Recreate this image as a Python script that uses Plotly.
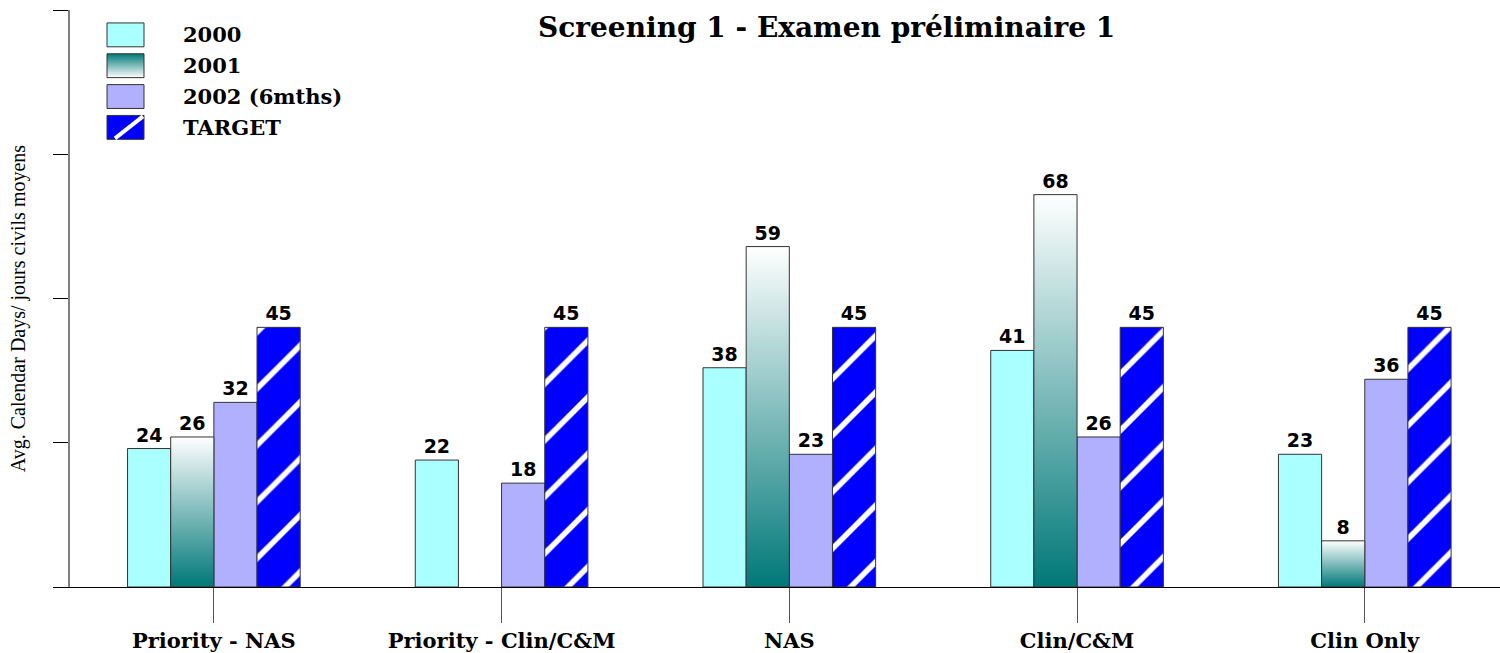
import plotly.graph_objects as go

categories = ["Priority - NAS", "Priority - Clin/C&M", "NAS", "Clin/C&M", "Clin Only"]
series_names = ["2000", "2001", "2002 (6mths)", "TARGET"]
v2000 = [24, 22, 38, 41, 23]
v2001 = [26, None, 59, 68, 8]
v2002 = [32, 18, 23, 26, 36]
vtarget = [45, 45, 45, 45, 45]
title_text = "Screening 1 - Examen préliminaire 1"
y_title = "Avg. Calendar Days/ jours civils moyens"

BW = 0.15
offsets = [-0.30, -0.15, 0.0, 0.15]
xs = list(range(len(categories)))
SERIF = "DejaVu Serif"
LABEL_FONT = dict(family="DejaVu Sans", size=19, color="black", weight="bold")
TEAL = "#007878"
grad_scale = [[0, TEAL], [1, "#ffffff"]]
EDGE = "#333333"

fig = go.Figure()

# 2000
fig.add_trace(go.Bar(x=xs, y=v2000, width=BW, offset=offsets[0],
                     marker=dict(color="#aaffff", line=dict(color=EDGE, width=1)),
                     text=v2000, textposition="outside", textfont=LABEL_FONT,
                     cliponaxis=False, showlegend=False))
# 2001 (gradient fill drawn with scatter polygons; bar carries labels)
for i, v in zip(xs, v2001):
    if v is None:
        continue
    x0 = i + offsets[1]
    fig.add_trace(go.Scatter(x=[x0, x0 + BW, x0 + BW, x0, x0], y=[0, 0, v, v, 0],
                             mode="lines", fill="toself",
                             fillgradient=dict(type="vertical", colorscale=grad_scale),
                             line=dict(color=EDGE, width=1), hoverinfo="skip",
                             showlegend=False))
fig.add_trace(go.Bar(x=xs, y=v2001, width=BW, offset=offsets[1],
                     marker=dict(color="rgba(0,0,0,0)", line=dict(width=0)),
                     text=v2001, textposition="outside", textfont=LABEL_FONT,
                     cliponaxis=False, showlegend=False))
# 2002
fig.add_trace(go.Bar(x=xs, y=v2002, width=BW, offset=offsets[2],
                     marker=dict(color="#b0b0ff", line=dict(color=EDGE, width=1)),
                     text=v2002, textposition="outside", textfont=LABEL_FONT,
                     cliponaxis=False, showlegend=False))
# Target
fig.add_trace(go.Bar(x=xs, y=vtarget, width=BW, offset=offsets[3],
                     marker=dict(color="#0000ff", line=dict(color=EDGE, width=1),
                                 pattern=dict(shape="/", fillmode="replace", bgcolor="#0000ff",
                                              fgcolor="#ffffff", fgopacity=1,
                                              size=40, solidity=0.14)),
                     text=vtarget, textposition="outside", textfont=LABEL_FONT,
                     cliponaxis=False, showlegend=False))

# ---- custom legend on an overlay axis in pixel-like units ----
leg_x0, leg_x1 = 107, 144
leg_rows = [(23, 47), (54, 78), (85, 109), (116, 140)]
fig.add_trace(go.Scatter(x=[leg_x0, leg_x1, leg_x1, leg_x0, leg_x0],
                         y=[leg_rows[1][1], leg_rows[1][1], leg_rows[1][0], leg_rows[1][0], leg_rows[1][1]],
                         xaxis="x2", yaxis="y2", mode="lines", fill="toself",
                         fillgradient=dict(type="vertical", colorscale=[[0, "#ffffff"], [1, TEAL]]),
                         line=dict(color=EDGE, width=1), hoverinfo="skip", showlegend=False))
shapes = [
    dict(type="rect", xref="x2", yref="y2", x0=leg_x0, x1=leg_x1, y0=leg_rows[0][0], y1=leg_rows[0][1],
         fillcolor="#aaffff", line=dict(color=EDGE, width=1)),
    dict(type="rect", xref="x2", yref="y2", x0=leg_x0, x1=leg_x1, y0=leg_rows[2][0], y1=leg_rows[2][1],
         fillcolor="#b0b0ff", line=dict(color=EDGE, width=1)),
    dict(type="rect", xref="x2", yref="y2", x0=leg_x0, x1=leg_x1, y0=leg_rows[3][0], y1=leg_rows[3][1],
         fillcolor="#0000ff", line=dict(color=EDGE, width=1)),
    dict(type="line", xref="x2", yref="y2", x0=leg_x0 + 8, x1=leg_x1 - 1, y0=leg_rows[3][1] - 1, y1=leg_rows[3][0] + 1,
         line=dict(color="white", width=4)),
]
annotations = []
for name, (r0, r1) in zip(series_names, leg_rows):
    annotations.append(dict(xref="x2", yref="y2", x=181, y=(r0 + r1) / 2, text=name, showarrow=False,
                            xanchor="left", yanchor="middle",
                            font=dict(family=SERIF, size=21, color="black", weight="bold")))
annotations.append(dict(xref="x2", yref="y2", x=826, y=28, text=title_text, showarrow=False,
                        xanchor="center", yanchor="middle",
                        font=dict(family=SERIF, size=28, color="black", weight="bold")))
annotations.append(dict(xref="paper", yref="paper", x=-0.0364, y=0.483, text=y_title, showarrow=False,
                        textangle=-90, xanchor="center", yanchor="middle",
                        font=dict(family="Liberation Serif", size=20, color="black")))

fig.update_layout(
    width=1500, height=653,
    margin=dict(l=70, r=0, t=10, b=63),
    paper_bgcolor="white", plot_bgcolor="white",
    barmode="overlay",
    shapes=shapes, annotations=annotations,
    xaxis=dict(range=[-0.5, 4.47], tickvals=xs, ticktext=categories,
               showline=True, linecolor="black", linewidth=1,
               ticks="outside", ticklen=35, tickcolor="#555555", tickwidth=1,
               tickfont=dict(family=SERIF, size=21, color="black", weight="bold"),
               showgrid=False, zeroline=False),
    yaxis=dict(range=[0, 100], tickvals=[0, 25, 50, 75, 100], showticklabels=False,
               showline=True, linecolor="#808080", linewidth=2,
               ticks="outside", ticklen=15, tickcolor="black", tickwidth=1,
               showgrid=False, zeroline=False),
    xaxis2=dict(overlaying="x", range=[70, 1500], visible=False),
    yaxis2=dict(overlaying="y", range=[590, 10], visible=False),
)

fig.write_html("out.html", config={"displayModeBar": False},
               post_script="document.body.style.margin='0px';")
